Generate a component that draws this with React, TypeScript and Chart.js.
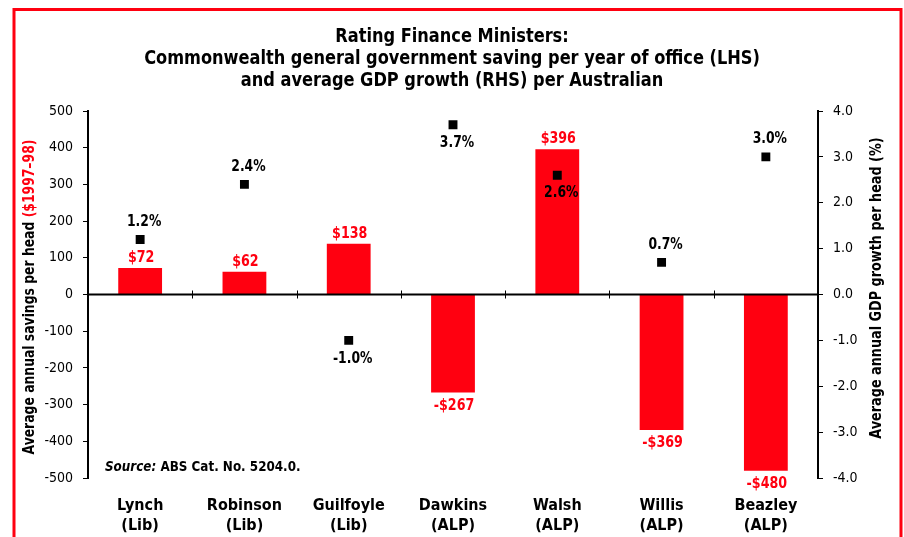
import React, { useEffect, useRef } from "react";
import { Chart, registerables } from "chart.js";

Chart.register(...registerables);

const ministers = ["Lynch", "Robinson", "Guilfoyle", "Dawkins", "Walsh", "Willis", "Beazley"];
const parties = ["(Lib)", "(Lib)", "(Lib)", "(ALP)", "(ALP)", "(ALP)", "(ALP)"];
const savings = [72, 62, 138, -267, 396, -369, -480];
const gdpGrowth = [1.2, 2.4, -1.0, 3.7, 2.6, 0.7, 3.0];
// label placement of the GDP labels: 1 = above marker, -1 = below
const gdpLabelSide = [1, 1, -1, -1, -1, 1, 1];
const titleLines = [
  "Rating Finance Ministers:",
  "Commonwealth general government saving per year of office (LHS)",
  "and average GDP growth (RHS) per Australian",
];
const leftTitleMain = "Average annual savings per head ";
const leftTitleRed = "($1997\u201398)";
const rightTitle = "Average annual GDP growth per head (%)";
const sourceLabel = "Source:";
const sourceText = " ABS Cat. No. 5204.0.";

const FONT = '"Liberation Sans Narrow", "DejaVu Sans Condensed", "Roboto Condensed", Roboto, sans-serif';
const RED = "#ff0010";

// draw text horizontally condensed by factor sx
function drawText(ctx: any, text: string, x: number, y: number, font: string, sx: number, align: string, color: string) {
  ctx.save();
  ctx.font = font;
  ctx.fillStyle = color;
  ctx.textAlign = align;
  ctx.textBaseline = "middle";
  ctx.translate(x, y);
  ctx.scale(sx, 1);
  ctx.fillText(text, 0, 0);
  ctx.restore();
}

const decorPlugin = {
  id: "decor",
  beforeDraw(chart: any) {
    const ctx = chart.ctx;
    ctx.save();
    ctx.fillStyle = "#fff";
    ctx.fillRect(0, 0, chart.width, chart.height);
    // frame
    ctx.strokeStyle = RED;
    ctx.lineWidth = 3;
    ctx.beginPath();
    ctx.moveTo(14, 540);
    ctx.lineTo(14, 9.5);
    ctx.lineTo(901, 9.5);
    ctx.lineTo(901, 540);
    ctx.stroke();
    ctx.restore();
    // title
    titleLines.forEach((t, i) => drawText(ctx, t, 452, 37 + i * 22, `bold 20px ${FONT}`, 0.9, "center", "#000"));
  },
  afterDatasetsDraw(chart: any) {
    const ctx = chart.ctx;
    const area = chart.chartArea;
    const y = chart.scales.y;
    const y1 = chart.scales.y1;
    const x = chart.scales.x;
    ctx.save();
    // zero line with category ticks
    const y0 = y.getPixelForValue(0);
    ctx.strokeStyle = "#000";
    ctx.lineWidth = 2;
    ctx.beginPath();
    ctx.moveTo(area.left, y0);
    ctx.lineTo(area.right, y0);
    ctx.stroke();
    ctx.lineWidth = 1;
    const n = ministers.length;
    const w = (area.right - area.left) / n;
    ctx.beginPath();
    for (let i = 1; i < n; i++) {
      const xx = Math.round(area.left + i * w) + 0.5;
      ctx.moveTo(xx, y0 - 4);
      ctx.lineTo(xx, y0 + 4);
    }
    ctx.stroke();
    ctx.restore();

    // bar labels
    savings.forEach((v, i) => {
      const px = x.getPixelForValue(i);
      const py = y.getPixelForValue(v);
      const txt = (v < 0 ? "-$" : "$") + Math.abs(v);
      drawText(ctx, txt, px + 1, v >= 0 ? py - 10 : py + 13, `bold 16px ${FONT}`, 0.88, "center", RED);
    });
    // gdp labels
    gdpGrowth.forEach((v, i) => {
      const px = x.getPixelForValue(i);
      const py = y1.getPixelForValue(v);
      drawText(ctx, v.toFixed(1) + "%", px + 4, py - gdpLabelSide[i] * 18, `bold 16px ${FONT}`, 0.86, "center", "#000");
    });

    // source
    ctx.save();
    ctx.font = `italic bold 14px ${FONT}`;
    const sw = ctx.measureText(sourceLabel).width * 0.95;
    ctx.restore();
    drawText(ctx, sourceLabel, 105, 467, `italic bold 14px ${FONT}`, 0.95, "left", "#000");
    drawText(ctx, sourceText, 105 + sw, 467, `bold 14px ${FONT}`, 0.95, "left", "#000");

    // left axis title (two colours)
    ctx.save();
    ctx.translate(30, 297);
    ctx.rotate(-Math.PI / 2);
    ctx.scale(0.86, 1);
    ctx.font = `bold 16px ${FONT}`;
    ctx.textBaseline = "middle";
    const w1 = ctx.measureText(leftTitleMain).width;
    const w2 = ctx.measureText(leftTitleRed).width;
    const start = -(w1 + w2) / 2;
    ctx.textAlign = "left";
    ctx.fillStyle = "#000";
    ctx.fillText(leftTitleMain, start, 0);
    ctx.fillStyle = RED;
    ctx.fillText(leftTitleRed, start + w1, 0);
    ctx.restore();

    // right axis title
    ctx.save();
    ctx.translate(877, 288);
    ctx.rotate(-Math.PI / 2);
    drawText(ctx, rightTitle, 0, 0, `bold 16px ${FONT}`, 0.89, "center", "#000");
    ctx.restore();
  },
};

export default function App() {
  const ref = useRef<HTMLCanvasElement | null>(null);
  useEffect(() => {
    if (!ref.current) return;
    const labels = ministers.map((m, i) => [m, parties[i]]);
    const chart = new Chart(ref.current, {
      type: "bar",
      data: {
        labels,
        datasets: [
          {
            type: "line",
            data: gdpGrowth,
            yAxisID: "y1",
            showLine: false,
            pointStyle: "rect",
            pointRadius: 6.3,
            pointBackgroundColor: "#000",
            pointBorderWidth: 0,
            borderColor: "#000",
            order: 0,
          } as any,
          {
            type: "bar",
            data: savings,
            yAxisID: "y",
            backgroundColor: RED,
            barPercentage: 0.42,
            categoryPercentage: 1,
            order: 1,
          },
        ],
      },
      options: {
        responsive: false,
        animation: false,
        events: [],
        layout: { padding: { top: 111, bottom: 0, left: 0, right: 0 } },
        plugins: { legend: { display: false }, tooltip: { enabled: false }, title: { display: false } },
        scales: {
          x: {
            type: "category",
            offset: true,
            grid: { display: false },
            border: { display: false },
            ticks: {
              color: "#000",
              font: { family: FONT, size: 16, weight: "bold", lineHeight: 1.25 },
              padding: 10,
              maxRotation: 0,
              autoSkip: false,
            },
            afterFit(scale: any) {
              scale.height = 59;
            },
          },
          y: {
            position: "left",
            min: -500,
            max: 500,
            ticks: {
              stepSize: 100,
              color: "#000",
              font: { family: FONT, size: 14 },
              padding: 10,
            },
            grid: { display: true, drawOnChartArea: false, drawTicks: true, tickLength: 5, color: "#000" },
            border: { display: true, color: "#000", width: 2 },
            afterFit(scale: any) {
              scale.width = 88;
            },
          },
          y1: {
            position: "right",
            min: -4,
            max: 4,
            ticks: {
              stepSize: 1,
              color: "#000",
              font: { family: FONT, size: 14 },
              padding: 10,
              callback: (v: any) => Number(v).toFixed(1),
            },
            grid: { display: true, drawOnChartArea: false, drawTicks: true, tickLength: 5, color: "#000" },
            border: { display: true, color: "#000", width: 2 },
            afterFit(scale: any) {
              scale.width = 86;
            },
          },
        },
      },
      plugins: [decorPlugin],
    });
    return () => chart.destroy();
  }, []);
  return (
    <div style={{ position: "fixed", left: 0, top: 0, width: 904, height: 537, background: "#fff" }}>
      <canvas ref={ref} width={904} height={537} style={{ display: "block" }} />
    </div>
  );
}
